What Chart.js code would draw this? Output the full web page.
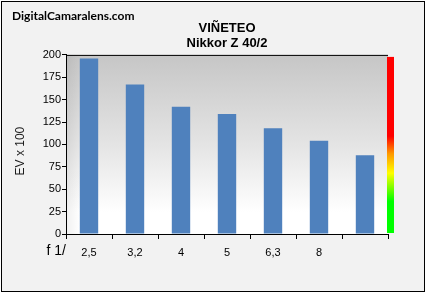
<!DOCTYPE html>
<html>
<head>
<meta charset="utf-8">
<script src="https://cdn.jsdelivr.net/npm/chart.js@4.4.1/dist/chart.umd.min.js"></script>
<style>
  body { margin: 0; background: #fff; }
  #wrap { width: 426px; height: 293px; }
</style>
</head>
<body>
<div id="wrap"><canvas id="myChart" width="426" height="293"></canvas></div>
<script>
// data
var apertures = ["2,5", "3,2", "4", "5", "6,3", "8", ""];
var vignetting = [196, 167, 142, 134, 118, 104, 88];
var yTicks = [0, 25, 50, 75, 100, 125, 150, 175, 200];
var titleLines = ["VIÑETEO", "Nikkor Z 40/2"];

var barBlue = "#4f81bd";

// background, plot gradient, colour bar, extra texts
var decor = {
  id: "decor",
  beforeDraw: function(chart) {
    var ctx = chart.ctx, a = chart.chartArea;
    ctx.save();
    ctx.fillStyle = "#ffffff";
    ctx.fillRect(0, 0, chart.width, chart.height);
    ctx.fillStyle = "#f2f2f2";
    ctx.fillRect(1, 1, 424, 291);
    ctx.strokeStyle = "#000";
    ctx.lineWidth = 1;
    ctx.strokeRect(1.5, 1.5, 423, 290);

    var g = ctx.createLinearGradient(0, a.top, 0, a.bottom);
    g.addColorStop(0, "#c6c6c6");
    g.addColorStop(0.5, "#e4e4e4");
    g.addColorStop(0.88, "#ffffff");
    g.addColorStop(1, "#ffffff");
    ctx.fillStyle = g;
    ctx.fillRect(a.left, a.top, a.right - a.left, a.bottom - a.top);

    var s = ctx.createLinearGradient(a.left, 0, a.left + 14, 0);
    s.addColorStop(0, "rgba(0,0,0,0.06)");
    s.addColorStop(1, "rgba(0,0,0,0)");
    ctx.fillStyle = s;
    ctx.fillRect(a.left, a.top, 14, a.bottom - a.top);
    ctx.restore();
  },
  afterDraw: function(chart) {
    var ctx = chart.ctx, a = chart.chartArea;
    ctx.save();
    // top frame line
    ctx.strokeStyle = "#000";
    ctx.lineWidth = 1;
    ctx.beginPath();
    ctx.moveTo(a.left, a.top + 0.5);
    ctx.lineTo(a.right, a.top + 0.5);
    ctx.stroke();

    // colour bar on the right
    var top = a.top + 2, bot = a.bottom - 1;
    var c = ctx.createLinearGradient(0, top, 0, bot);
    c.addColorStop(0, "#ff0000");
    c.addColorStop(0.45, "#ff0000");
    c.addColorStop(0.55, "#ff9900");
    c.addColorStop(0.66, "#ffff00");
    c.addColorStop(0.82, "#00ff00");
    c.addColorStop(1, "#00ff00");
    ctx.fillStyle = c;
    ctx.fillRect(a.right - 1, top, 7, bot - top);

    ctx.fillStyle = "#000";
    ctx.textAlign = "left";
    ctx.textBaseline = "alphabetic";
    ctx.font = "bold 12px Lato";
    ctx.fillText("DigitalCamaralens.com", 12, 20);

    ctx.textAlign = "right";
    ctx.font = "14px 'Liberation Sans'";
    ctx.fillText("f 1/", a.left, 255);
    ctx.restore();
  }
};

new Chart("myChart", {
  type: "bar",
  data: {
    labels: apertures,
    datasets: [{
      data: vignetting,
      backgroundColor: barBlue,
      barPercentage: 0.4,
      categoryPercentage: 1
    }]
  },
  options: {
    responsive: false,
    animation: false,
    devicePixelRatio: 1,
    layout: { padding: { left: 0, right: 38, top: 0, bottom: 0 } },
    plugins: {
      legend: { display: false },
      tooltip: { enabled: false },
      title: {
        display: true,
        fullSize: false,
        text: titleLines,
        color: "#000",
        font: { family: "'Liberation Sans'", size: 13, weight: "bold", lineHeight: 1.15 },
        padding: { top: 21, bottom: 4 }
      }
    },
    scales: {
      x: {
        afterFit: function(scale) { scale.height = 59; },
        grid: { offset: true, drawOnChartArea: false, tickLength: 5, color: "#000" },
        border: { color: "#000" },
        ticks: { color: "#000", padding: 7, font: { family: "'Liberation Sans'", size: 11 } }
      },
      y: {
        min: 0,
        max: 200,
        afterFit: function(scale) { scale.width = 66; },
        afterBuildTicks: function(scale) {
          scale.ticks = yTicks.map(function(v) { return { value: v }; });
        },
        grid: { drawOnChartArea: false, tickLength: 4, color: "#000" },
        border: { color: "#000" },
        ticks: { color: "#000", padding: 1, font: { family: "'Liberation Sans'", size: 11 } },
        title: {
          display: true,
          text: "EV x 100    ",
          color: "#1a1a1a",
          padding: { top: 13 },
          font: { family: "'Liberation Sans'", size: 12 }
        }
      }
    }
  },
  plugins: [decor]
});
</script>
</body>
</html>
